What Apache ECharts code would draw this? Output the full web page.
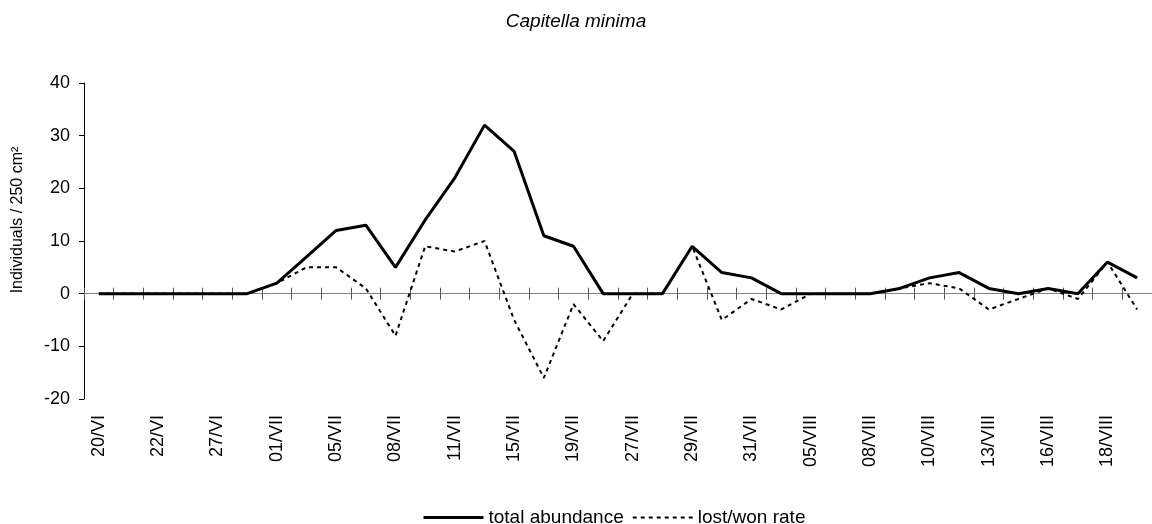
<!DOCTYPE html>
<html>
<head>
<meta charset="utf-8">
<script src="https://cdn.jsdelivr.net/npm/echarts@6/dist/echarts.min.js"></script>
<style>
html,body{margin:0;padding:0;background:#fff;}
#chart{width:1152px;height:524px;}
</style>
</head>
<body>
<div id="chart"></div>
<script>
var categories = ['20/VI','','22/VI','','27/VI','','01/VII','','05/VII','','08/VII','','11/VII','','15/VII','','19/VII','','27/VII','','29/VII','','31/VII','','05/VIII','','08/VIII','','10/VIII','','13/VIII','','16/VIII','','18/VIII',''];
var totalAbundance = [0,0,0,0,0,0,2,7,12,13,5,14,22,32,27,11,9,0,0,0,9,4,3,0,0,0,0,1,3,4,1,0,1,0,6,3];
var lostWonRate = [0,0,0,0,0,0,2,5,5,1,-8,9,8,10,-5,-16,-2,-9,0,0,9,-5,-1,-3,0,0,0,1,2,1,-3,-1,1,-1,6,-3];
var yTicks = {min:-20, max:40, interval:10};

var chart = echarts.init(document.getElementById('chart'));
var font = 'Liberation Sans, Arial, sans-serif';
var option = {
  backgroundColor:'#fff',
  animation:false,
  title:{
    text:'Capitella minima', left:'center', top:7,
    textStyle:{fontFamily:font, fontStyle:'italic', fontWeight:'normal', fontSize:19, color:'#000'}
  },
  legend:{
    left:417, top:503, itemWidth:60, itemHeight:12, itemGap:8,
    itemStyle:{opacity:0},
    textStyle:{fontFamily:font, fontSize:19, color:'#000'},
    data:[
      {name:'total abundance', lineStyle:{width:3, color:'#000', type:'solid'}},
      {name:'lost/won rate', lineStyle:{width:2, color:'#000', type:[4,4]}}
    ]
  },
  grid:{left:84, top:83, width:1071, height:316, containLabel:false},
  graphic:[{
    type:'text', x:18, y:220, rotation:Math.PI/2,
    style:{text:'Individuals / 250 cm\u00b2', fontFamily:font, fontSize:16, fill:'#000', align:'center', verticalAlign:'middle'}
  }],
  xAxis:[
    {type:'category', data:categories, position:'bottom',
     axisLine:{show:false, onZero:false}, axisTick:{show:false},
     axisLabel:{interval:0, rotate:90, margin:16, fontFamily:font, fontSize:18, color:'#000'}},
    {type:'category', data:categories, position:'bottom',
     axisLine:{show:true, onZero:true, onZeroAxisIndex:0, lineStyle:{color:'#808080', width:1}},
     axisTick:{show:true, inside:false, interval:0, length:6, lineStyle:{color:'#555', width:1}},
     axisLabel:{show:false}},
    {type:'category', data:categories, position:'bottom',
     axisLine:{show:true, onZero:true, onZeroAxisIndex:1, lineStyle:{color:'#808080', width:1}},
     axisTick:{show:true, inside:true, interval:0, length:6, lineStyle:{color:'#555', width:1}},
     axisLabel:{show:false}}
  ],
  yAxis:[{
    type:'value', min:yTicks.min, max:yTicks.max, interval:yTicks.interval, position:'left',
    axisLine:{show:true, lineStyle:{color:'#000', width:1}},
    axisTick:{show:true, inside:false, length:5, lineStyle:{color:'#000'}},
    axisLabel:{margin:14, fontFamily:font, fontSize:18, color:'#000'},
    splitLine:{show:false}
  },{
    type:'value', min:yTicks.min, max:yTicks.max, interval:yTicks.interval, position:'left',
    axisLine:{show:false}, axisTick:{show:false}, axisLabel:{show:false}, splitLine:{show:false}
  }],
  series:[
    {name:'total abundance', type:'line', data:totalAbundance, xAxisIndex:0, yAxisIndex:0,
     symbol:'none', lineStyle:{color:'#000', width:3, type:'solid'}, itemStyle:{color:'#000'}, z:3},
    {name:'lost/won rate', type:'line', data:lostWonRate, xAxisIndex:0, yAxisIndex:0,
     symbol:'none', lineStyle:{color:'#000', width:2, type:[4,4]}, itemStyle:{color:'#000'}, z:2}
  ]
};
chart.setOption(option);
</script>
</body>
</html>
